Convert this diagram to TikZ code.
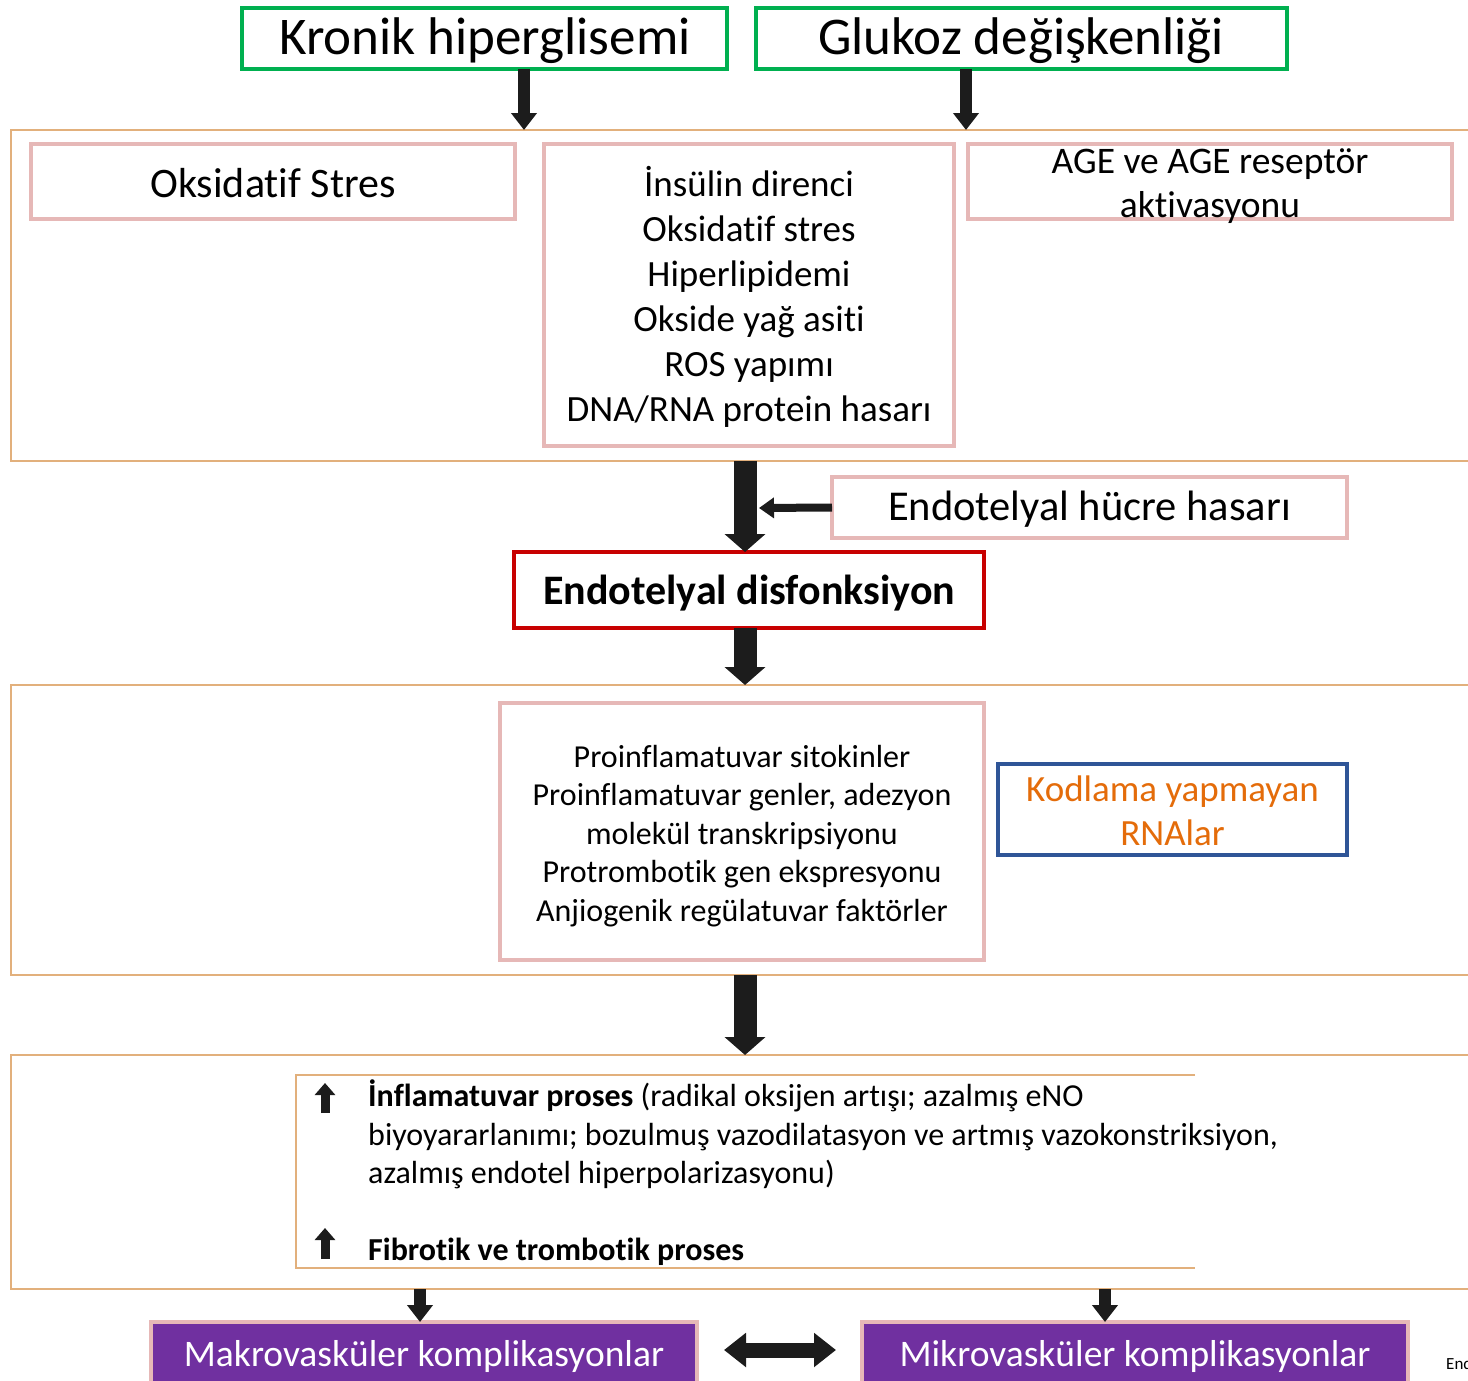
\documentclass[tikz,border=0pt]{standalone}
\usepackage{fontspec}
\setmainfont{Carlito}[Ligatures=NoCommon]
\usetikzlibrary{arrows.meta}
\definecolor{grn}{RGB}{0,176,80}
\definecolor{pnk}{RGB}{230,184,183}
\definecolor{org}{RGB}{226,176,124}
\definecolor{redb}{RGB}{200,0,0}
\definecolor{blu}{RGB}{47,85,151}
\definecolor{orgt}{RGB}{228,108,10}
\definecolor{purp}{RGB}{112,48,160}
\definecolor{arr}{RGB}{28,28,28}
\newcommand{\fsz}[2]{\fontsize{#1}{#2}\selectfont}
\tikzset{
  greenbox/.style={draw=grn, line width=4pt, inner sep=0pt, outer sep=0pt},
  pinkbox/.style={draw=pnk, line width=4.5pt, inner sep=0pt, outer sep=0pt},
  panel/.style={draw=org, line width=2pt, inner sep=0pt, outer sep=0pt},
  redbox/.style={draw=redb, line width=4pt, inner sep=0pt, outer sep=0pt},
  bluebox/.style={draw=blu, line width=4pt, inner sep=0pt, outer sep=0pt},
  purpbox/.style={draw=pnk, fill=purp, line width=4.5pt, inner sep=0pt, outer sep=0pt},
  lbl/.style={inner sep=0pt, outer sep=0pt, align=center},
  arrS/.style={draw=arr, line width=12pt, -{Triangle[width=25pt,length=17pt]}, arr},
  arrL/.style={draw=arr, line width=23pt, -{Triangle[width=40pt,length=18pt]}, arr},
  arrT/.style={draw=arr, line width=8pt, -{Triangle[width=20pt,length=15pt]}, arr},
  arrD/.style={draw=arr, line width=15pt, {Triangle[width=33pt,length=22pt]}-{Triangle[width=33pt,length=22pt]}, arr},
  arrU/.style={draw=arr, line width=9pt, -{Triangle[width=20pt,length=12pt]}, arr},
}
\begin{document}
\begin{tikzpicture}[x=1pt,y=-1pt]
\useasboundingbox (0,0) rectangle (1468,1381);
\clip (0,0) rectangle (1468,1381);
\fill[white] (0,0) rectangle (1468,1381);

% panels
\node[panel, minimum width=1470pt, minimum height=331pt] (p1) at (746,295.5) {};
\node[panel, minimum width=1470pt, minimum height=290pt] (p2) at (746,830) {};
\node[panel, minimum width=1470pt, minimum height=234pt] (p3) at (746,1172) {};

% top boxes
\node[greenbox, minimum width=485pt, minimum height=61pt] (k) at (484.5,38.5) {};
\node[lbl, font=\fsz{53}{60}] (kt) at (485,41) {Kronik hiperglisemi};
\node[greenbox, minimum width=531pt, minimum height=61pt] (g) at (1021.5,38.5) {};
\node[lbl, font=\fsz{53}{60}] (gt) at (1021,41) {Glukoz değişkenliği};

\draw[arrS] (k.south -| 524,0) -- (p1.north -| 524,0);
\draw[arrS] (g.south -| 966,0) -- (p1.north -| 966,0);

% panel 1 contents
\node[pinkbox, minimum width=484pt, minimum height=75pt] (os) at (273,181.5) {};
\node[lbl, font=\fsz{42}{48}] (ost) at (273,183) {Oksidatif Stres};
\node[pinkbox, minimum width=410pt, minimum height=302pt] (ins) at (749,295) {};
\node[lbl, font=\fsz{37}{45}] (inst) at (749,297) {İnsülin direnci\\Oksidatif stres\\Hiperlipidemi\\Okside yağ asiti\\ROS yapımı\\DNA/RNA protein hasarı};
\node[pinkbox, minimum width=484pt, minimum height=75pt] (age) at (1210,181.5) {};
\node[lbl, font=\fsz{37.5}{44}] (aget) at (1210,186) {AGE ve AGE reseptör\\aktivasyonu};

% endothelial
\node[pinkbox, minimum width=515pt, minimum height=61pt] (ehh) at (1089.5,507.5) {};
\node[lbl, font=\fsz{42.5}{48}] (ehht) at (1089.5,509) {Endotelyal hücre hasarı};
\node[redbox, minimum width=470pt, minimum height=76pt] (ed) at (749,590) {};
\node[lbl, font=\fsz{42}{48}\bfseries] (edt) at (749,593) {Endotelyal disfonksiyon};
\draw[arrL] (p1.south -| 745,0) -- (ed.north -| 745,0);
\coordinate (ah) at (759,508);
\draw[arrT] (ehh.west) -- (ah);
\draw[arrL] (ed.south -| 745,0) -- (p2.north -| 745,0);

% panel 2 contents
\node[pinkbox, minimum width=484pt, minimum height=257pt] (pro) at (742,831.5) {};
\node[lbl, font=\fsz{32}{38.5}] (prot) at (742,836) {Proinflamatuvar sitokinler\\Proinflamatuvar genler, adezyon\\molekül transkripsiyonu\\Protrombotik gen ekspresyonu\\Anjiogenik regülatuvar faktörler};
\node[bluebox, minimum width=349pt, minimum height=91pt] (kr) at (1172.5,809.5) {};
\node[lbl, text=orgt, font=\fsz{37}{44}] (krt) at (1172.5,811) {Kodlama yapmayan\\RNAlar};

\draw[arrL] (p2.south -| 745,0) -- (p3.north -| 745,0);

% panel 3 contents
\draw[draw=org, line width=2pt] (1195,1075) -- (296,1075) -- (296,1268) -- (1195,1268);
\draw[arrU] (325,1113) -- (325,1083);
\draw[arrU] (325,1259) -- (325,1228);
\node[inner sep=0pt, anchor=base west, font=\fsz{32}{38}] (l1) at (368,1106) {\textbf{İnflamatuvar proses} (radikal oksijen artışı; azalmış eNO};
\node[inner sep=0pt, anchor=base west, font=\fsz{32}{38}] (l2) at (368,1145) {biyoyararlanımı; bozulmuş vazodilatasyon ve artmış vazokonstriksiyon,};
\node[inner sep=0pt, anchor=base west, font=\fsz{32}{38}] (l3) at (368,1183) {azalmış endotel hiperpolarizasyonu)};
\node[inner sep=0pt, anchor=base west, font=\fsz{32}{38}] (l4) at (368,1260) {\textbf{Fibrotik ve trombotik proses}};

% bottom
\node[purpbox, minimum width=546pt, minimum height=70pt] (ma) at (424,1357) {};
\node[lbl, text=white, font=\fsz{37.5}{42}] (mat) at (424,1356) {Makrovasküler komplikasyonlar};
\node[purpbox, minimum width=546pt, minimum height=70pt] (mi) at (1135,1357) {};
\node[lbl, text=white, font=\fsz{37.5}{42}] (mit) at (1135,1356) {Mikrovasküler komplikasyonlar};
\draw[arrS] (p3.south -| 420,0) -- (ma.north -| 420,0);
\draw[arrS] (p3.south -| 1105,0) -- (mi.north -| 1105,0);
\coordinate (d1) at (724,1350);
\coordinate (d2) at (836,1350);
\draw[arrD] (d1) -- (d2);
\node[inner sep=0pt, anchor=base west, font=\fsz{17}{20}] (en) at (1446,1369) {End};
\end{tikzpicture}
\end{document}
